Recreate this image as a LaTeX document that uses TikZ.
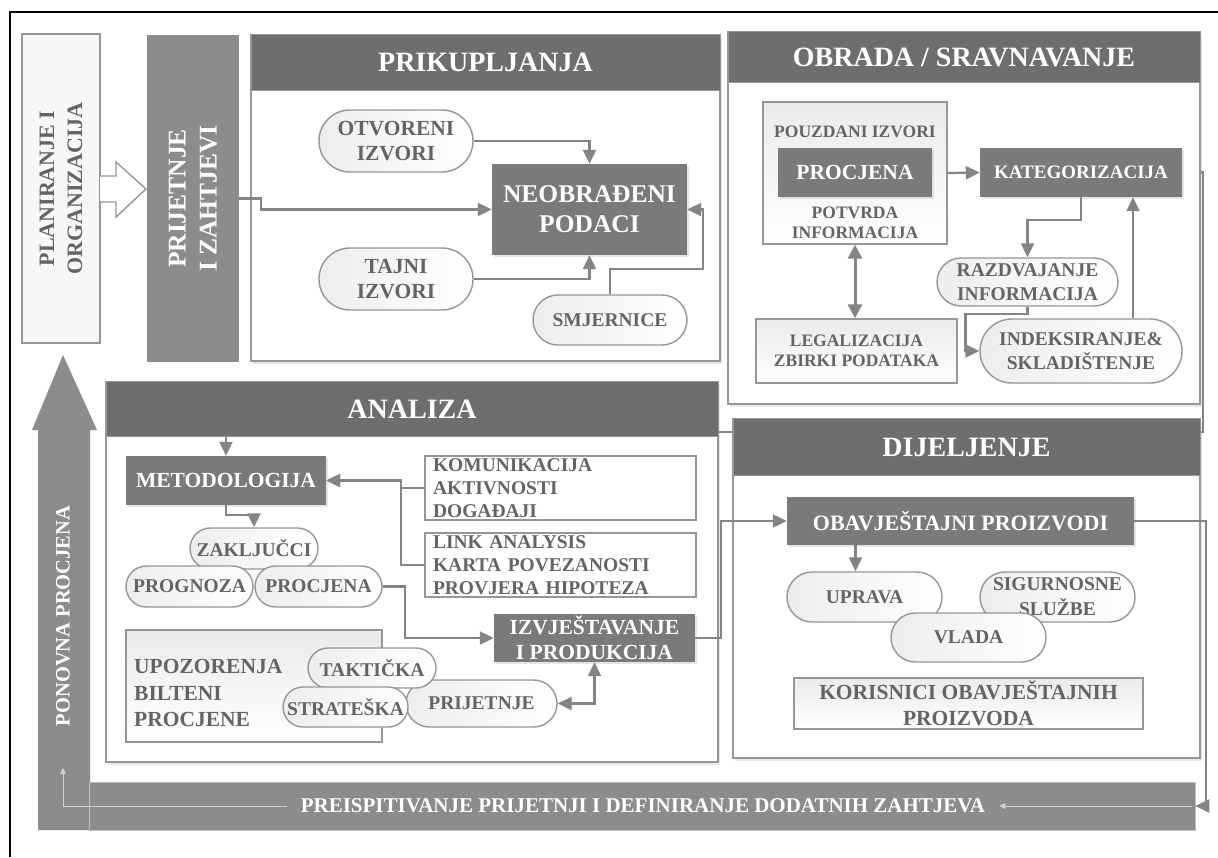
\documentclass[tikz,border=0pt]{standalone}
\usepackage{fontspec}
\setmainfont{Liberation Serif}
\usetikzlibrary{shapes.misc, arrows.meta, positioning, shadows, calc, backgrounds}

\definecolor{headgray}{RGB}{110,110,110}
\definecolor{boxgray}{RGB}{122,122,122}
\definecolor{bargray}{RGB}{140,140,140}
\definecolor{linegray}{RGB}{132,132,132}
\definecolor{textgray}{RGB}{100,100,100}
\definecolor{edgegray}{RGB}{150,150,150}

\begin{document}
\begin{tikzpicture}[
  x=1pt, y=-1pt,
  panel/.style={
    rectangle, draw=edgegray, line width=1.6pt, fill=white,
    drop shadow={shadow xshift=2pt, shadow yshift=-3pt, opacity=0.18}
  },
  panelhead/.style={
    rectangle, draw=edgegray, line width=1pt, fill=headgray,
    text=white, anchor=north, font=\fontsize{28}{32}\selectfont\bfseries
  },
  darkbox/.style={
    rectangle, fill=boxgray, text=white, align=center, inner sep=0pt,
    font=\fontsize{21.5}{26}\selectfont\bfseries,
    drop shadow={shadow xshift=1.5pt, shadow yshift=-2pt, opacity=0.2}
  },
  pill/.style={
    rounded rectangle, draw=edgegray, line width=1.4pt,
    left color=gray!14, right color=white, text=textgray,
    align=center, inner sep=0pt,
    font=\fontsize{19.5}{24}\selectfont\bfseries
  },
  lightbox/.style={
    rectangle, draw=edgegray, line width=1.4pt,
    top color=gray!16, bottom color=white, text=textgray,
    align=center, inner sep=0pt,
    font=\fontsize{17.5}{20}\selectfont\bfseries
  },
  listbox/.style={
    rectangle, draw=edgegray, line width=1.4pt, fill=white,
    text=textgray, align=left, text width=255pt,
    inner xsep=8pt, inner ysep=0pt, minimum height=64pt,
    font=\fontsize{19.5}{23}\selectfont\bfseries
  },
  plaintext/.style={
    text=textgray, align=center, inner sep=0pt,
    font=\fontsize{17.5}{20}\selectfont\bfseries
  },
  arrow/.style={-{Triangle[length=14pt,width=13pt]}, line width=2.2pt, draw=linegray},
  plainline/.style={line width=2.2pt, draw=linegray},
  faint/.style={-{Triangle[length=6pt,width=6pt]}, line width=0.8pt, draw=gray!35}
]
\useasboundingbox (0,0) rectangle (1218,857);

% frame
\draw[line width=1.4pt] (10,857) -- (10,12) -- (1218,12);

% planning and requirements
\node[rectangle, draw=edgegray, line width=1.4pt, fill=gray!6, rotate=90,
  minimum width=309pt, minimum height=78pt, text=textgray, align=center,
  font=\fontsize{22}{28}\selectfont\bfseries] (plan) at (61,188.5) {PLANIRANJE I\\ORGANIZACIJA};
\draw[draw=edgegray, line width=1.4pt, fill=white]
  (100,176) -- (116,176) -- (116,162) -- (146,189) -- (116,217) -- (116,202) -- (100,202);
\node[rectangle, fill=bargray, rotate=90, minimum width=327pt, minimum height=92pt,
  text=white, align=center, font=\fontsize{25.5}{31}\selectfont\bfseries] (prij) at (193,198.5) {PRIJETNJE\\I ZAHTJEVI};

% collection
\node[panel, minimum width=469pt, minimum height=326pt] (prikpanel) at (485.5,198) {};
\node[panelhead, minimum width=469pt, minimum height=56pt] (prikhead) at (prikpanel.north) {PRIKUPLJANJA};
\node[pill, minimum width=154pt, minimum height=62pt, font=\fontsize{21.5}{25}\selectfont\bfseries] (otv) at (396,141) {OTVORENI\\IZVORI};
\node[pill, minimum width=154pt, minimum height=62pt, font=\fontsize{21.5}{25}\selectfont\bfseries] (tajni) at (396,279) {TAJNI\\IZVORI};
\node[darkbox, minimum width=195pt, minimum height=91pt, font=\fontsize{25.5}{30}\selectfont\bfseries] (neobr) at (589.5,209.5) {NEOBRAĐENI\\PODACI};
\node[pill, minimum width=154pt, minimum height=50pt] (smj) at (610,320) {SMJERNICE};

% processing
\node[panel, minimum width=472pt, minimum height=372pt] (obrpanel) at (964,218) {};
\node[panelhead, minimum width=472pt, minimum height=51pt] (obrhead) at (obrpanel.north) {OBRADA / SRAVNAVANJE};
\node[lightbox, minimum width=184pt, minimum height=142pt] (pouzd) at (855,173) {};
\node[plaintext] (pouzdtop) at (855,132) {POUZDANI IZVORI};
\node[plaintext] (pouzdbot) at (855,223) {POTVRDA\\INFORMACIJA};
\node[darkbox, minimum width=154pt, minimum height=49pt] (procj) at (855,172.5) {PROCJENA};
\node[darkbox, minimum width=202pt, minimum height=49pt, font=\fontsize{19}{22}\selectfont\bfseries] (kateg) at (1081,172.5) {KATEGORIZACIJA};
\node[pill, minimum width=181pt, minimum height=48pt] (razd) at (1027.5,282) {RAZDVAJANJE\\INFORMACIJA};
\node[lightbox, minimum width=201pt, minimum height=64pt] (legal) at (856.5,351) {LEGALIZACIJA\\ZBIRKI PODATAKA};
\node[pill, minimum width=202pt, minimum height=64pt] (indeks) at (1081,351) {INDEKSIRANJE\&\\SKLADIŠTENJE};

% analysis
\node[panel, minimum width=612pt, minimum height=380pt] (anapanel) at (412,572) {};
\node[panelhead, minimum width=612pt, minimum height=55pt] (anahead) at (anapanel.north) {ANALIZA};
\node[darkbox, minimum width=200pt, minimum height=49pt] (metod) at (226,480.5) {METODOLOGIJA};
\node[listbox] (komu) at (560.5,488) {KOMUNIKACIJA\\AKTIVNOSTI\\DOGAĐAJI};
\node[listbox] (link) at (560.5,565) {LINK ANALYSIS\\KARTA POVEZANOSTI\\PROVJERA HIPOTEZA};
\node[pill, minimum width=128pt, minimum height=41pt] (zak) at (254,548.5) {ZAKLJUČCI};
\node[pill, minimum width=127pt, minimum height=41pt] (prog) at (189.5,586.5) {PROGNOZA};
\node[pill, minimum width=127pt, minimum height=41pt] (procj2) at (318.5,586.5) {PROCJENA};
\node[darkbox, minimum width=201pt, minimum height=48pt, font=\fontsize{21.5}{25}\selectfont\bfseries] (izvj) at (594.5,638) {IZVJEŠTAVANJE\\I PRODUKCIJA};
\node[lightbox, minimum width=256pt, minimum height=112pt] (upoz) at (254,686) {};
\node[plaintext, anchor=west, align=left, font=\fontsize{21.5}{26.5}\selectfont\bfseries] (upoztxt) at (134,693) {UPOZORENJA\\BILTENI\\PROCJENE};
\node[pill, minimum width=151pt, minimum height=47pt] (prijp) at (481.5,703.5) {PRIJETNJE};
\node[pill, minimum width=128pt, minimum height=40pt] (takt) at (372,668) {TAKTIČKA};
\node[pill, minimum width=125pt, minimum height=40pt] (strat) at (345.5,707) {STRATEŠKA};

% dissemination
\node[panel, minimum width=467pt, minimum height=339pt] (dijpanel) at (966.5,588.5) {};
\node[panelhead, minimum width=467pt, minimum height=57pt] (dijhead) at (dijpanel.north) {DIJELJENJE};
\node[darkbox, minimum width=347pt, minimum height=48pt, font=\fontsize{22}{26}\selectfont\bfseries] (obav) at (960.5,521) {OBAVJEŠTAJNI PROIZVODI};
\node[pill, minimum width=155pt, minimum height=50pt] (uprava) at (864.5,597) {UPRAVA};
\node[pill, minimum width=155pt, minimum height=50pt, font=\fontsize{19.5}{25}\selectfont\bfseries] (sigur) at (1057.5,597) {SIGURNOSNE\\SLUŽBE};
\node[pill, minimum width=155pt, minimum height=49pt] (vlada) at (968.5,637.5) {VLADA};
\node[lightbox, minimum width=349pt, minimum height=51pt, font=\fontsize{21.5}{26}\selectfont\bfseries] (koris) at (968.5,703.5) {KORISNICI OBAVJEŠTAJNIH\\PROIZVODA};

% reassessment
\fill[bargray] (38,830) -- (38,430) -- (32,430) -- (63,355) -- (97,430) -- (90,430) -- (90,830) -- cycle;
\node[text=white, rotate=90, font=\fontsize{20.5}{24}\selectfont\bfseries] (ponovna) at (63,616) {PONOVNA PROCJENA};
\node[rectangle, fill=bargray, draw=gray!50, line width=0.6pt, minimum width=1106pt, minimum height=48pt] (preisp) at (642,806) {};
\node[fill=bargray, text=white, inner xsep=14pt, font=\fontsize{21}{24}\selectfont\bfseries] (preisptxt) at (643,806) {PREISPITIVANJE PRIJETNJI I DEFINIRANJE DODATNIH ZAHTJEVA};
\coordinate (ponbase) at (63,768);
\draw[faint] ([xshift=-3pt]preisp.east) -- (preisptxt.east);
\draw[faint] (preisptxt.west) -| (ponbase);

% connectors
\draw[arrow] (prij.south) -- ++(22,0) -- ++(0,11) -- (neobr.west);
\draw[arrow] (otv.east) -| (neobr.north);
\draw[arrow] (tajni.east) -| (neobr.south);
\draw[arrow] (smj.north) -- ++(0,-25) -| ([xshift=16pt]neobr.east) -- (neobr.east);

\draw[arrow] (pouzd.east) -- (kateg.west);
\draw[arrow] (kateg.south) -- ++(0,23) -| (razd.north);
\draw[arrow, line width=3pt, {Triangle[length=14pt,width=14pt]}-{Triangle[length=14pt,width=14pt]}] (pouzd.south) -- (pouzd.south |- legal.north);
\draw[arrow] (razd.south) -- ++(0,7) -- ++(-62,0) |- (indeks.west);
\draw[arrow] ([xshift=52pt]indeks.north) -- ([xshift=52pt]indeks.north |- kateg.south);
\begin{pgfonlayer}{background}
\draw[plainline] (kateg.east) -- ++(21,0) |- ([yshift=-22.5pt]anahead.east);
\end{pgfonlayer}

\draw[arrow] (metod.north |- anahead.south) -- (metod.north);
\draw[arrow] (komu.west) -- ++(-23,0) |- (metod.east);
\draw[arrow] (link.west) -- ++(-23,0) |- (metod.east);
\draw[arrow] (metod.south) -- ++(0,10) -| (zak.north);
\draw[arrow] (procj2.east) -- ++(22,0) |- (izvj.west);
\draw[arrow, {Triangle[length=14pt,width=13pt]}-{Triangle[length=14pt,width=13pt]}] (prijp.east) -| (izvj.south);
\draw[arrow] (izvj.east) -- ++(26,0) |- (obav.west);

\draw[arrow] ([xshift=-9pt]uprava.north |- obav.south) -- ([xshift=-9pt]uprava.north);
\draw[arrow] (obav.east) -- ++(72,0) |- (preisp.east);
\end{tikzpicture}
\end{document}
